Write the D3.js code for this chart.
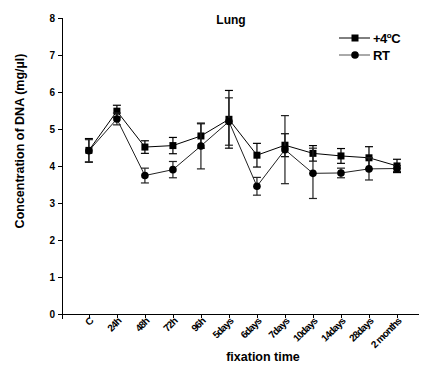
<!DOCTYPE html>
<html lang="en">
<head>
<meta charset="UTF-8">
<title>Lung</title>
<script src="https://d3js.org/d3.v7.min.js"></script>
<style>
    body { margin: 0; background: #fff; font-family: "Liberation Sans", Arial, sans-serif; }
    .axis text { font-size: 10px; font-weight: bold; fill: #000; }
    .axis path, .axis line { stroke: #000; stroke-width: 1; shape-rendering: crispEdges; }
</style>
</head>
<body>
<div id="chart"></div>
<script>
const categories = ["C", "24h", "48h", "72h", "96h", "5days", "6days", "7days", "10days", "14days", "28days", "2 months"];
const cold = [4.43, 5.49, 4.52, 4.56, 4.82, 5.27, 4.30, 4.57, 4.35, 4.28, 4.23, 4.01];
const coldErr = [0.32, 0.16, 0.17, 0.22, 0.33, 0.78, 0.32, 0.31, 0.21, 0.20, 0.30, 0.18];
const rt = [4.42, 5.28, 3.75, 3.91, 4.55, 5.21, 3.46, 4.45, 3.81, 3.82, 3.93, 3.94];
const rtErr = [0.30, 0.16, 0.20, 0.22, 0.62, 0.64, 0.24, 0.92, 0.68, 0.13, 0.30, 0.08];
const yTicks = [0, 1, 2, 3, 4, 5, 6, 7, 8];

const W = 421, H = 368;
const svg = d3.select("#chart").append("svg").attr("width", W).attr("height", H);

const x = d3.scaleLinear().domain([-0.96, 11.75]).range([62, 418]);
const y = d3.scaleLinear().domain([0, 8]).range([314.3, 18.3]);

// axes
svg.append("g")
    .attr("class", "axis")
    .attr("transform", "translate(62,0)")
    .call(d3.axisLeft(y).tickValues(yTicks).tickSize(4).tickPadding(3).tickSizeOuter(0))
    .call(g => g.select(".domain").attr("d", "M0," + y(8) + "V" + (y(0) + 5)));

const xAxis = svg.append("g")
    .attr("class", "axis")
    .attr("transform", "translate(0," + y(0) + ")")
    .call(d3.axisBottom(x).tickValues(d3.range(categories.length))
        .tickFormat(i => categories[i]).tickSize(4).tickSizeOuter(0));

xAxis.selectAll("text")
    .attr("text-anchor", "end")
    .attr("font-size", "10.5px")
    .attr("letter-spacing", "-0.8px")
    .attr("transform", "translate(2,5) rotate(-45)")
    .attr("dy", "0.35em")
    .attr("y", 0).attr("x", 0);

// series
const series = [
    { name: "cold", values: cold, err: coldErr, color: "#000", shape: "square" },
    { name: "rt", values: rt, err: rtErr, color: "#222", shape: "circle" }
];

const line = d3.line().x((d, i) => x(i)).y(d => y(d));

series.forEach(s => {
    const g = svg.append("g");
    g.append("path")
        .attr("d", line(s.values))
        .attr("fill", "none")
        .attr("stroke", s.color)
        .attr("stroke-width", 1);

    const eb = g.selectAll(".eb").data(s.values).enter().append("g");
    eb.append("line")
        .attr("x1", (d, i) => x(i)).attr("x2", (d, i) => x(i))
        .attr("y1", (d, i) => y(d - s.err[i])).attr("y2", (d, i) => y(d + s.err[i]))
        .attr("stroke", s.color).attr("stroke-width", 1.2);
    [-1, 1].forEach(sign => {
        eb.append("line")
            .attr("x1", (d, i) => x(i) - 4).attr("x2", (d, i) => x(i) + 4)
            .attr("y1", (d, i) => y(d + sign * s.err[i])).attr("y2", (d, i) => y(d + sign * s.err[i]))
            .attr("stroke", s.color).attr("stroke-width", 1.2);
    });

    if (s.shape === "square") {
        g.selectAll(".pt").data(s.values).enter().append("rect")
            .attr("x", (d, i) => x(i) - 3.5).attr("y", d => y(d) - 3.5)
            .attr("width", 7).attr("height", 7).attr("fill", "#000");
    } else {
        g.selectAll(".pt").data(s.values).enter().append("circle")
            .attr("cx", (d, i) => x(i)).attr("cy", d => y(d))
            .attr("r", 3.8).attr("fill", "#000");
    }
});

// title
svg.append("text")
    .attr("x", 231).attr("y", 24)
    .attr("text-anchor", "middle")
    .attr("font-size", 12).attr("font-weight", "bold")
    .text("Lung");

// legend
const legend = [
    { label: "+4", sup: "o", tail: "C", shape: "square", color: "#000", y: 38 },
    { label: "RT", shape: "circle", color: "#555", y: 55 }
];
legend.forEach(l => {
    svg.append("line").attr("x1", 339).attr("x2", 370).attr("y1", l.y).attr("y2", l.y)
        .attr("stroke", l.color).attr("stroke-width", 1);
    if (l.shape === "square") {
        svg.append("rect").attr("x", 351.5).attr("y", l.y - 3.5).attr("width", 7).attr("height", 7).attr("fill", "#000");
    } else {
        svg.append("circle").attr("cx", 355).attr("cy", l.y).attr("r", 3.8).attr("fill", "#000");
    }
    const t = svg.append("text").attr("x", 373).attr("y", l.y + 5)
        .attr("font-size", 13).attr("font-weight", "bold").attr("letter-spacing", "-0.5px");
    t.append("tspan").text(l.label);
    if (l.sup) {
        t.append("tspan").attr("font-size", 8).attr("dy", -5).text(l.sup);
        t.append("tspan").attr("dy", 5).text(l.tail);
    }
});

// axis titles
svg.append("text")
    .attr("transform", "translate(24,141) rotate(-90)")
    .attr("text-anchor", "middle")
    .attr("font-size", 12.5).attr("font-weight", "bold")
    .text("Concentration of DNA (mg/µl)");

svg.append("text")
    .attr("x", 263).attr("y", 361)
    .attr("text-anchor", "middle")
    .attr("font-size", 12.5).attr("font-weight", "bold")
    .text("fixation time");
</script>
</body>
</html>
